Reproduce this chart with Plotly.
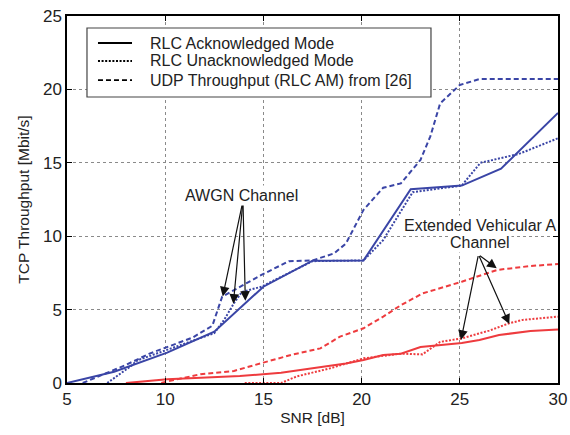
import plotly.graph_objects as go

# SNR sample points [dB] and TCP/UDP throughput [Mbit/s] for each curve
awgn_am_snr = [5, 7.4, 10.1, 12.5, 15.0, 17.5, 20.1, 22.5, 25.1, 27.1, 30]
awgn_am_tput = [0, 0.77, 2.07, 3.5, 6.56, 8.33, 8.35, 13.2, 13.45, 14.6, 18.4]

awgn_um_snr = [7.05, 8.2, 8.6, 10.1, 12.5, 13.0, 13.5, 13.9, 14.9, 17.5, 20.1, 21.1, 22.6, 25.1, 26.05, 28.0, 30]
awgn_um_tput = [0, 1.1, 1.55, 2.25, 3.4, 4.3, 5.43, 6.2, 6.56, 8.3, 8.35, 9.74, 13.0, 13.45, 15.0, 15.6, 16.67]

awgn_udp_snr = [5.8, 8.0, 9.2, 10.1, 11.4, 12.4, 12.9, 14.9, 16.3, 17.5, 18.6, 19.2, 19.5, 20.1, 21.1, 22.0, 23.0, 23.5, 24.0, 25.0, 26.0, 30]
awgn_udp_tput = [0, 1.23, 2.0, 2.45, 3.1, 3.9, 5.88, 7.36, 8.3, 8.35, 8.83, 9.5, 10.3, 11.8, 13.3, 13.6, 15.2, 16.8, 19.05, 20.3, 20.7, 20.7]

eva_am_snr = [8.0, 10.1, 13.8, 15.9, 17.5, 19.2, 20.1, 21.1, 22.0, 23.0, 25.1, 26.0, 27.0, 28.6, 30]
eva_am_tput = [0, 0.25, 0.47, 0.7, 1.0, 1.33, 1.57, 1.9, 2.0, 2.45, 2.72, 2.93, 3.27, 3.54, 3.65]

eva_um_snr = [14.05, 15.9, 16.7, 18.4, 20.1, 21.1, 22.0, 23.1, 24.0, 25.1, 26.5, 27.5, 28.2, 30]
eva_um_tput = [0, 0, 0.45, 1.0, 1.68, 1.84, 2.0, 1.95, 2.8, 3.04, 3.57, 4.06, 4.3, 4.52]

eva_udp_snr = [9.8, 10.1, 11.8, 13.5, 15.0, 16.4, 17.9, 18.9, 20.1, 21.1, 22.0, 23.1, 25.1, 26.9, 28.6, 30]
eva_udp_tput = [0, 0.1, 0.6, 0.82, 1.39, 1.91, 2.36, 3.16, 3.73, 4.52, 5.3, 6.1, 6.9, 7.7, 7.97, 8.1]

legend_names = ["RLC Acknowledged Mode", "RLC Unacknowledged Mode", "UDP Throughput (RLC AM) from [26]"]

BLUE = "#3a45a6"
RED = "#ee3b3e"
INK = "#222222"
FONT = "Liberation Sans, Arial, Helvetica, sans-serif"
SOLID, DOTTED, DASHED = "solid", "2px,1.6px", "5px,3px"
LABEL_SIZE = 16

fig = go.Figure()

curves = [
    (awgn_am_snr, awgn_am_tput, BLUE, SOLID),
    (awgn_um_snr, awgn_um_tput, BLUE, DOTTED),
    (awgn_udp_snr, awgn_udp_tput, BLUE, DASHED),
    (eva_am_snr, eva_am_tput, RED, SOLID),
    (eva_um_snr, eva_um_tput, RED, DOTTED),
    (eva_udp_snr, eva_udp_tput, RED, DASHED),
]
for xs, ys, color, dash in curves:
    fig.add_trace(go.Scatter(x=xs, y=ys, mode="lines", showlegend=False,
                             line=dict(color=color, width=2, dash=dash)))

# boxed line-style key in the upper left corner (paper coordinates)
shapes = [dict(type="rect", xref="paper", yref="paper",
               x0=0.0407, x1=0.7413, y0=0.7793, y1=0.9673,
               line=dict(color="#444", width=1.2), fillcolor="white", layer="above")]
ann = []
key_rows = [0.9264, 0.8774, 0.8253]
for name, dash, row in zip(legend_names, [SOLID, DOTTED, DASHED], key_rows):
    shapes.append(dict(type="line", xref="paper", yref="paper",
                       x0=0.0631, x1=0.1324, y0=row, y1=row, layer="above",
                       line=dict(color="black", width=1.8, dash=dash)))
    ann.append(dict(xref="paper", yref="paper", x=0.165, y=row, xanchor="left",
                    yanchor="middle", text=name, showarrow=False,
                    font=dict(size=LABEL_SIZE, color=INK, family=FONT)))

# channel labels with their arrows
awgn_label = (13.86, 12.8)
awgn_tail = (13.96, 12.4)
awgn_heads = [(12.93, 5.9), (13.47, 5.4), (14.08, 5.6)]
eva_label_1 = (26.03, 10.76)
eva_label_2 = (26.03, 9.56)
eva_tail = (25.95, 8.75)
eva_heads = [(26.88, 7.81), (25.06, 2.93), (27.52, 4.02)]

for tail, heads in [(awgn_tail, awgn_heads), (eva_tail, eva_heads)]:
    for hx, hy in heads:
        ann.append(dict(x=hx, y=hy, ax=tail[0], ay=tail[1], axref="x", ayref="y",
                        xref="x", yref="y", text="", showarrow=True,
                        arrowhead=2, arrowsize=1.6, arrowwidth=1.2, arrowcolor="#111"))
for (lx, ly), text in [(awgn_label, "AWGN Channel"),
                       (eva_label_1, "Extended Vehicular A"),
                       (eva_label_2, "Channel")]:
    ann.append(dict(x=lx, y=ly, text=text, showarrow=False, bgcolor="white",
                    borderpad=1, font=dict(size=LABEL_SIZE, color=INK, family=FONT)))

axis_common = dict(
    showline=True, linecolor="black", linewidth=1.5, mirror="ticks",
    ticks="inside", ticklen=5, tickcolor="black", tickwidth=1,
    showgrid=True, gridcolor="#8a8a8a", gridwidth=1, griddash="dot",
    zeroline=False, dtick=5, automargin=False,
    tickfont=dict(size=17, color=INK, family=FONT),
)

fig.update_layout(
    width=570, height=435,
    margin=dict(l=67, r=12, t=16, b=52),
    paper_bgcolor="white", plot_bgcolor="white",
    font=dict(family=FONT, color=INK),
    xaxis=dict(range=[5, 30], title=dict(text="SNR [dB]", font=dict(size=15.5), standoff=4), **axis_common),
    yaxis=dict(range=[0, 25], title=dict(text="TCP Throughput [Mbit/s]", font=dict(size=15.5), standoff=10), **axis_common),
    showlegend=False,
    shapes=shapes,
    annotations=ann,
)

fig.write_html("out.html")
